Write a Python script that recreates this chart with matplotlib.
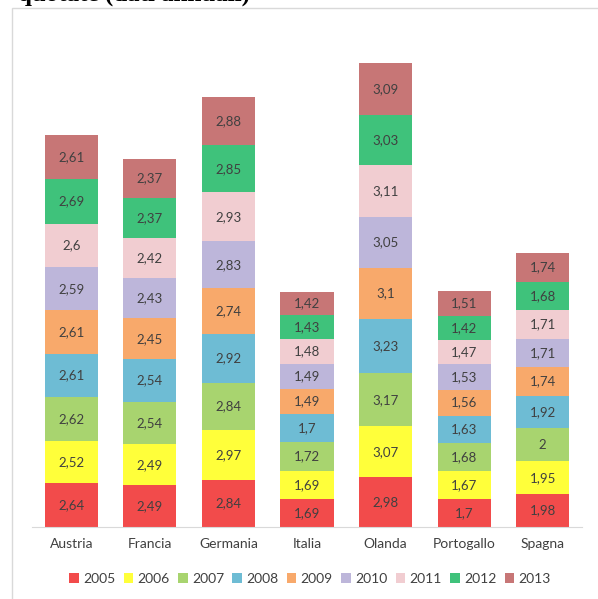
import matplotlib
matplotlib.use("Agg")
import matplotlib.pyplot as plt
from matplotlib.patches import Rectangle, Patch
import numpy as np

countries = ["Austria", "Francia", "Germania", "Italia", "Olanda", "Portogallo", "Spagna"]
years = ["2005", "2006", "2007", "2008", "2009", "2010", "2011", "2012", "2013"]
v2005 = [2.64, 2.49, 2.84, 1.69, 2.98, 1.70, 1.98]
v2006 = [2.52, 2.49, 2.97, 1.69, 3.07, 1.67, 1.95]
v2007 = [2.62, 2.54, 2.84, 1.72, 3.17, 1.68, 2.00]
v2008 = [2.61, 2.54, 2.92, 1.70, 3.23, 1.63, 1.92]
v2009 = [2.61, 2.45, 2.74, 1.49, 3.10, 1.56, 1.74]
v2010 = [2.59, 2.43, 2.83, 1.49, 3.05, 1.53, 1.71]
v2011 = [2.60, 2.42, 2.93, 1.48, 3.11, 1.47, 1.71]
v2012 = [2.69, 2.37, 2.85, 1.43, 3.03, 1.42, 1.68]
v2013 = [2.61, 2.37, 2.88, 1.42, 3.09, 1.51, 1.74]
series = [v2005, v2006, v2007, v2008, v2009, v2010, v2011, v2012, v2013]
colors = ["#F24B4B", "#FFFF3A", "#A8D46F", "#6EBCD4", "#F8A96B",
          "#BDB6DA", "#F1CDD1", "#3FC27B", "#C77676"]

W, H = 598, 599
fig = plt.figure(figsize=(W / 100, H / 100), dpi=100)
fig.patch.set_facecolor("white")

# outer frame of the chart panel
fig.patches.append(Rectangle((12 / W, -0.01), 1.0, 1 - 8 / H + 0.01,
                             transform=fig.transFigure, facecolor="none",
                             edgecolor="#d9d9d9", linewidth=1.0))
# title (cut at the top edge, as in the reference)
fig.text(18 / W, 1 - 1 / H, "quotate (dati annuali)", ha="left", va="baseline",
         fontsize=18, fontweight="bold", family="Liberation Serif", color="#000000")

ax = fig.add_axes([32 / W, 1 - 527 / H, 550 / W, 487 / H])
x = np.arange(len(countries))
bottom = np.zeros(len(countries))
for vals, col, yr in zip(series, colors, years):
    vals = np.array(vals)
    ax.bar(x, vals, bottom=bottom, width=0.675, color=col, label=yr, linewidth=0)
    for xi, b, v in zip(x, bottom, vals):
        ax.text(xi, b + v / 2, f"{v:g}".replace(".", ","), ha="center", va="center",
                fontsize=9.5, color="#404040", family="Lato")
    bottom += vals

ax.set_xlim(-0.5, len(countries) - 0.5)
ax.set_ylim(0, 487 / 16.67)
for s in ["top", "right", "left"]:
    ax.spines[s].set_visible(False)
ax.spines["bottom"].set_color("#d9d9d9")
ax.set_yticks([])
ax.set_xticks(x)
ax.set_xticklabels(countries, fontsize=10, color="#404040", family="Lato")
ax.tick_params(axis="x", length=0, pad=8)

handles = [Patch(facecolor=c, edgecolor="none") for c in colors]
fig.legend(handles, years, loc="center", bbox_to_anchor=(310 / W, 1 - 579 / H),
           ncol=9, frameon=False, handlelength=0.7, handleheight=0.7,
           handletextpad=0.3, columnspacing=0.6, labelcolor="#404040",
           prop={"family": "Lato", "size": 10})

fig.savefig("out.png", dpi=100)
